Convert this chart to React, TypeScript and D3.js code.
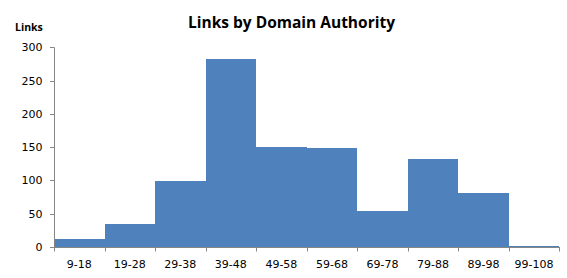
import React from "react";
import * as d3 from "d3";

const categories = ["9-18", "19-28", "29-38", "39-48", "49-58", "59-68", "69-78", "79-88", "89-98", "99-108"];
const values = [12, 35, 99, 282, 150, 148, 54, 132, 81, 2];
const yTicks = [0, 50, 100, 150, 200, 250, 300];

const W = 567, H = 278;
const left = 54, right = 559.3, top = 47.3, bottom = 247;

export default function App() {
  const x = d3.scaleBand<string>().domain(categories).range([left, right]).padding(0);
  const y = d3.scaleLinear().domain([0, 300]).range([bottom, top]);
  const axisColor = "#868686";
  const font = "Tahoma, 'DejaVu Sans', sans-serif";
  const edges = categories.map((c) => x(c)!).concat([right]);
  return (
    <svg width={W} height={H} style={{ position: "absolute", left: 0, top: 0, display: "block" }}>
      <rect width={W} height={H} fill="#fff" />
      <text x={291.5} y={27.5} textAnchor="middle" fontFamily="'Open Sans', sans-serif" fontWeight="bold" fontSize={15.5} fill="#000">
        Links by Domain Authority
      </text>
      <text x={15} y={31} fontFamily="'Open Sans', sans-serif" fontWeight="bold" fontSize={10.5} fill="#000">
        Links
      </text>
      {categories.map((c, i) => {
        const x0 = Math.round(x(c)!);
        const x1 = Math.round(x(c)! + x.bandwidth());
        const y0 = Math.round(y(values[i]));
        return <rect key={c} x={x0} y={y0} width={x1 - x0} height={bottom - y0} fill="#4F81BD" shapeRendering="crispEdges" />;
      })}
      <line x1={left + 0.5} x2={left + 0.5} y1={top} y2={bottom + 0.5} stroke={axisColor} />
      <line x1={left} x2={right + 0.5} y1={bottom + 0.5} y2={bottom + 0.5} stroke={axisColor} />
      {yTicks.map((t) => (
        <g key={t}>
          <line x1={50} x2={left} y1={Math.round(y(t)) + 0.5} y2={Math.round(y(t)) + 0.5} stroke={axisColor} />
          <text x={42.5} y={y(t) + 4} textAnchor="end" fontFamily={font} fontSize={11} fill="#000">{t}</text>
        </g>
      ))}
      {edges.map((e, i) => (
        <line key={i} x1={Math.round(e) + 0.5} x2={Math.round(e) + 0.5} y1={bottom} y2={251.5} stroke={axisColor} />
      ))}
      {categories.map((c) => (
        <text key={c} x={x(c)! + x.bandwidth() / 2} y={268} textAnchor="middle" fontFamily={font} fontSize={11} fill="#000">{c}</text>
      ))}
    </svg>
  );
}
